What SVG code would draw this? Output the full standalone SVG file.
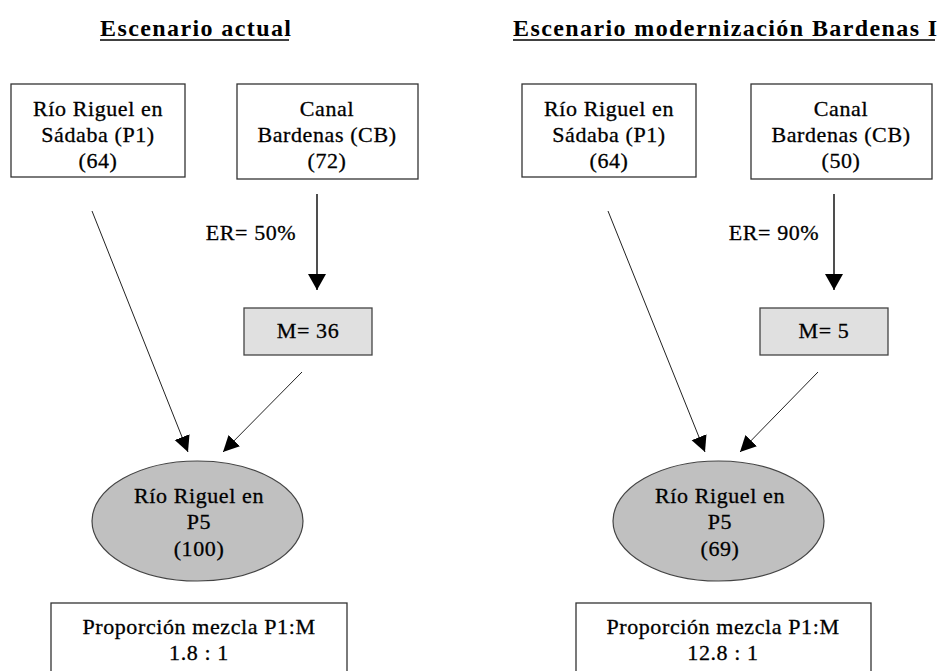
<svg xmlns="http://www.w3.org/2000/svg" width="937" height="671" viewBox="0 0 937 671">
<style>
text{font-family:"Liberation Serif","Times New Roman",serif;fill:#000;text-anchor:middle}
.t{font-size:22px;letter-spacing:0.6px;stroke:#000;stroke-width:0.3}
.h{font-size:24px;font-weight:bold;letter-spacing:1.4px;text-anchor:start}
.box{fill:#fff;stroke:#333;stroke-width:1.3}
.m{fill:#e0e0e0;stroke:#444;stroke-width:1.3}
.ell{fill:#c0c0c0;stroke:#444;stroke-width:1.2}
.c{stroke:#222;stroke-width:1;fill:none}
.cv{stroke:#222;stroke-width:1.6;fill:none}
</style>
<defs>
<marker id="ah" markerUnits="userSpaceOnUse" markerWidth="18" markerHeight="18" refX="16" refY="8" orient="auto" viewBox="0 0 18 18">
<path d="M0,0 L16,8 L0,16 z" fill="#000"/>
</marker>
<marker id="ahv" markerUnits="userSpaceOnUse" markerWidth="18" markerHeight="20" refX="16" refY="9" orient="auto" viewBox="0 0 18 20">
<path d="M0,0 L16,9 L0,18 z" fill="#000"/>
</marker>
</defs>
<rect width="937" height="671" fill="#fff"/>

<g id="title-left">
<text class="h" x="100" y="36">Escenario actual</text>
<line x1="100" y1="40" x2="289" y2="40" stroke="#000" stroke-width="1.6"/>
</g>
<g id="title-right">
<text class="h" x="513" y="36">Escenario modernización Bardenas I</text>
<line x1="513" y1="40" x2="935" y2="40" stroke="#000" stroke-width="1.6"/>
</g>

<g id="connectors">
<line class="c" x1="92" y1="211" x2="188" y2="452" marker-end="url(#ah)"/>
<line class="c" x1="302" y1="372" x2="223" y2="452" marker-end="url(#ah)"/>
<line class="cv" x1="317" y1="194" x2="317" y2="290" marker-end="url(#ahv)"/>
<line class="c" x1="608" y1="211" x2="705" y2="452" marker-end="url(#ah)"/>
<line class="c" x1="818" y1="372" x2="740" y2="452" marker-end="url(#ah)"/>
<line class="cv" x1="834" y1="194" x2="834" y2="290" marker-end="url(#ahv)"/>
</g>

<g id="er-left"><text class="t" x="251" y="240">ER= 50%</text></g>
<g id="er-right"><text class="t" x="774" y="240">ER= 90%</text></g>

<g id="p1-left">
<rect class="box" x="11" y="84" width="174" height="93"/>
<text class="t" x="98" y="116">Río Riguel en</text>
<text class="t" x="98" y="142">Sádaba (P1)</text>
<text class="t" x="98" y="168">(64)</text>
</g>
<g id="cb-left">
<rect class="box" x="237" y="84" width="181" height="95"/>
<text class="t" x="327" y="116">Canal</text>
<text class="t" x="327" y="142">Bardenas (CB)</text>
<text class="t" x="327" y="168">(72)</text>
</g>
<g id="m-left">
<rect class="m" x="244" y="308" width="128" height="47"/>
<text class="t" x="308" y="338">M= 36</text>
</g>
<g id="p5-left">
<ellipse class="ell" cx="197.5" cy="521" rx="105.5" ry="60"/>
<text class="t" x="199" y="503">Río Riguel en</text>
<text class="t" x="199" y="529">P5</text>
<text class="t" x="199" y="556">(100)</text>
</g>
<g id="prop-left">
<rect class="box" x="51" y="603" width="296" height="80"/>
<text class="t" x="199" y="634">Proporción mezcla P1:M</text>
<text class="t" x="199" y="660">1.8 : 1</text>
</g>

<g id="p1-right">
<rect class="box" x="522" y="84" width="174" height="93"/>
<text class="t" x="609" y="116">Río Riguel en</text>
<text class="t" x="609" y="142">Sádaba (P1)</text>
<text class="t" x="609" y="168">(64)</text>
</g>
<g id="cb-right">
<rect class="box" x="751" y="84" width="181" height="95"/>
<text class="t" x="841" y="116">Canal</text>
<text class="t" x="841" y="142">Bardenas (CB)</text>
<text class="t" x="841" y="168">(50)</text>
</g>
<g id="m-right">
<rect class="m" x="760" y="308" width="128" height="47"/>
<text class="t" x="824" y="338">M= 5</text>
</g>
<g id="p5-right">
<ellipse class="ell" cx="718.5" cy="521" rx="105.5" ry="60"/>
<text class="t" x="720" y="503">Río Riguel en</text>
<text class="t" x="720" y="529">P5</text>
<text class="t" x="720" y="556">(69)</text>
</g>
<g id="prop-right">
<rect class="box" x="576" y="603" width="295" height="80"/>
<text class="t" x="723" y="634">Proporción mezcla P1:M</text>
<text class="t" x="723" y="660">12.8 : 1</text>
</g>
</svg>
